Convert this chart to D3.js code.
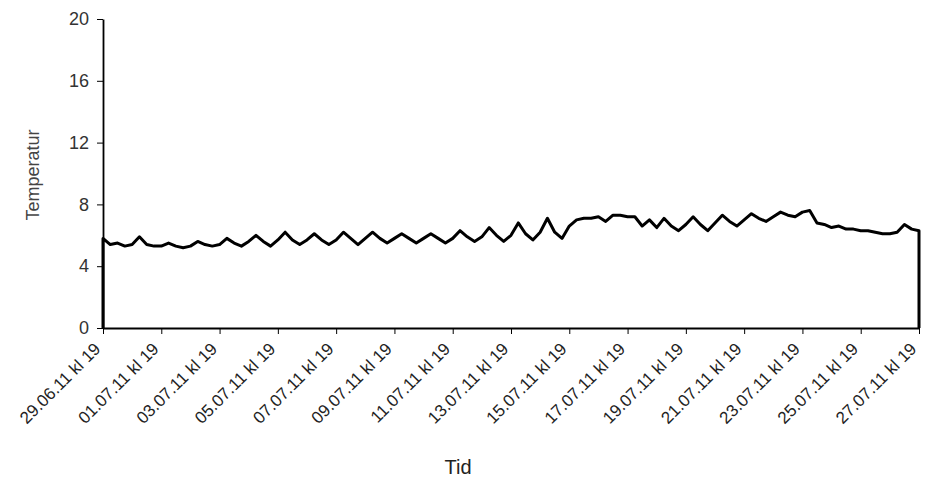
<!DOCTYPE html>
<html><head><meta charset="utf-8">
<script src="https://cdn.jsdelivr.net/npm/d3@7"></script>
<style>
html,body{margin:0;padding:0;background:#fff;}
text{font-family:"Liberation Sans",Arial,sans-serif;}
</style></head>
<body><svg id="c" width="925" height="502"></svg>
<script>
// Tick labels (every 2 days, kl 19)
const xTickLabels = ["29.06.11 kl 19","01.07.11 kl 19","03.07.11 kl 19","05.07.11 kl 19","07.07.11 kl 19",
 "09.07.11 kl 19","11.07.11 kl 19","13.07.11 kl 19","15.07.11 kl 19","17.07.11 kl 19","19.07.11 kl 19",
 "21.07.11 kl 19","23.07.11 kl 19","25.07.11 kl 19","27.07.11 kl 19"];
const yTicks = [0,4,8,12,16,20];
const stepHours = 6; // one reading every 6 hours from 29.06.11 kl 19
// Temperature readings, 4 per day
const temps = [
 5.8,5.4,5.5,5.3,  5.4,5.9,5.4,5.3,  5.3,5.5,5.3,5.2,  5.3,5.6,5.4,5.3,
 5.4,5.8,5.5,5.3,  5.6,6.0,5.6,5.3,  5.7,6.2,5.7,5.4,  5.7,6.1,5.7,5.4,
 5.7,6.2,5.8,5.4,  5.8,6.2,5.8,5.5,  5.8,6.1,5.8,5.5,  5.8,6.1,5.8,5.5,
 5.8,6.3,5.9,5.6,  5.9,6.5,6.0,5.6,  6.0,6.8,6.1,5.7,  6.2,7.1,6.2,5.8,
 6.6,7.0,7.1,7.1,  7.2,6.9,7.3,7.3,  7.2,7.2,6.6,7.0,  6.5,7.1,6.6,6.3,
 6.7,7.2,6.7,6.3,  6.8,7.3,6.9,6.6,  7.0,7.4,7.1,6.9,  7.2,7.5,7.3,7.2,
 7.5,7.6,6.8,6.7,  6.5,6.6,6.4,6.4,  6.3,6.3,6.2,6.1,  6.1,6.2,6.7,6.4,
 6.3
];

const svg = d3.select("#c");
const x0 = 103, x1 = 919, yTop = 19, yBot = 328;
const totalHours = 28*24;
const x = d3.scaleLinear().domain([0,totalHours]).range([x0,x1]);
const y = d3.scaleLinear().domain([0,20]).range([yBot,yTop]);

const pts = [[0,0]].concat(temps.map((v,i)=>[i*stepHours,v])).concat([[totalHours,0]]);

// line
svg.append("path").datum(pts)
 .attr("d", d3.line().x(d=>x(d[0])).y(d=>y(d[1])))
 .attr("fill","none").attr("stroke","#000").attr("stroke-width",3).attr("stroke-linejoin","round");

// y axis
const yAxis = svg.append("g").attr("transform",`translate(${x0},0)`)
 .call(d3.axisLeft(y).tickValues(yTicks).tickSize(6).tickSizeOuter(0).tickPadding(8));
yAxis.select(".domain").attr("stroke","#000").attr("stroke-width",1.8);
yAxis.selectAll(".tick line").attr("stroke","#000").attr("stroke-width",1);
yAxis.selectAll(".tick text").attr("font-size",18).attr("fill","#333").attr("font-family","Liberation Sans, Arial, sans-serif");

// x axis
const xTickVals = xTickLabels.map((d,i)=>i*48);
const xAxis = svg.append("g").attr("transform",`translate(0,${yBot})`)
 .call(d3.axisBottom(x).tickValues(xTickVals).tickFormat((d,i)=>xTickLabels[i]).tickSize(6).tickSizeOuter(0));
xAxis.select(".domain").attr("stroke","#000").attr("stroke-width",2);
xAxis.selectAll(".tick line").attr("stroke","#000").attr("stroke-width",1);
xAxis.selectAll(".tick text")
 .attr("font-size",17).attr("fill","#222").attr("font-family","Liberation Sans, Arial, sans-serif")
 .attr("text-anchor","end").attr("dy",0).attr("y",0)
 .attr("transform","translate(-2,22) rotate(-45)");

// titles
svg.append("text").attr("x",458).attr("y",474).attr("text-anchor","middle")
 .attr("font-size",20).attr("fill","#222").text("Tid");
svg.append("text").attr("transform","translate(39,175) rotate(-90)").attr("text-anchor","middle")
 .attr("font-size",18).attr("fill","#444").text("Temperatur");
</script></body></html>
